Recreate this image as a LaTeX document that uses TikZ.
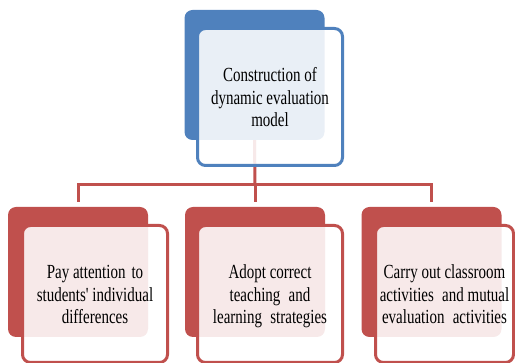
\documentclass[tikz,border=0pt]{standalone}
\usepackage{fontspec}
\usepackage{graphicx}
\setmainfont{Liberation Serif}
\usetikzlibrary{positioning}

\definecolor{modelblue}{HTML}{4F81BD}
\definecolor{modelred}{HTML}{C0504D}

% chữ hẹp theo chiều ngang
\newcommand{\narrowtext}[1]{\raisebox{-3pt}[\height][\depth]{\scalebox{0.75}[1]{\begin{tabular}{@{}c@{}}#1\end{tabular}}}}

\begin{document}
\begin{tikzpicture}[
    x=1pt, y=-1pt, % pixel-like coordinates
    back/.style={
      rectangle,
      rounded corners=8pt,
      minimum width=140pt,
      minimum height=130pt,
      draw=none
    },
    front/.style={
      rectangle,
      rounded corners=8pt,
      minimum width=145pt,
      minimum height=137pt,
      fill=white,
      fill opacity=0.88,
      text opacity=1,
      line width=3pt,
      font=\fontsize{20}{22.5}\selectfont
    },
    link/.style={
      draw=modelred,
      line width=3pt
    }
  ]
  \useasboundingbox (0,0) rectangle (515,363);

  % Hộp phía sau
  \node[back, fill=modelblue] (topback) at (254.5,75) {};
  \node[back, fill=modelred] (leftback) at (78,272) {};
  \node[back, fill=modelred] (midback) at (255,272) {};
  \node[back, fill=modelred] (rightback) at (431.5,272) {};

  % Đường nối
  \coordinate (bus) at (255,185);
  \draw[link] (topback.south) -- (bus);
  \draw[link, shorten >=5pt] (bus) -| (leftback.north);
  \draw[link, shorten >=5pt] (bus) -- (midback.north);
  \draw[link, shorten >=5pt] (bus) -| (rightback.north);

  % Hộp phía trước
  \node[front, draw=modelblue] (model) at (270,97)
    {\narrowtext{Construction of\\dynamic evaluation\\model}};
  \node[front, draw=modelred] (differences) at (95,294)
    {\narrowtext{Pay attention\hspace{0.15em} to\\students\textquotesingle{} individual\\differences}};
  \node[front, draw=modelred] (strategies) at (270,294)
    {\narrowtext{Adopt correct\\teaching\hspace{0.3em} and\\learning\hspace{0.3em} strategies}};
  \node[front, draw=modelred, minimum width=138pt] (activities) at (444.5,294)
    {\narrowtext{Carry out classroom\\activities\hspace{0.3em} and mutual\\evaluation\hspace{0.3em} activities}};

\end{tikzpicture}
\end{document}
